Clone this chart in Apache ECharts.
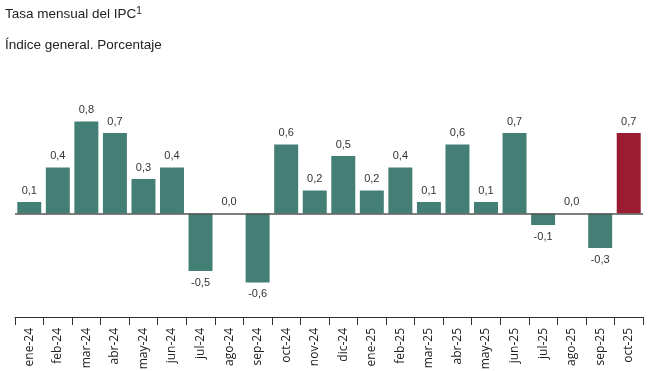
<!DOCTYPE html>
<html><head><meta charset="utf-8">
<script src="https://cdn.jsdelivr.net/npm/echarts@6/dist/echarts.min.js"></script>
<style>html,body{margin:0;padding:0;background:#fff}#c{width:659px;height:371px}</style>
</head><body><div id="c"></div>
<script>
const categories = ['ene-24','feb-24','mar-24','abr-24','may-24','jun-24','jul-24','ago-24','sep-24','oct-24','nov-24','dic-24','ene-25','feb-25','mar-25','abr-25','may-25','jun-25','jul-25','ago-25','sep-25','oct-25'];
const values = [0.1,0.4,0.8,0.7,0.3,0.4,-0.5,0.0,-0.6,0.6,0.2,0.5,0.2,0.4,0.1,0.6,0.1,0.7,-0.1,0.0,-0.3,0.7];
const highlightIndex = 21;

const chart = echarts.init(document.getElementById('c'));
const data = values.map((v,i)=>({
  value: v,
  itemStyle: {color: i===highlightIndex ? '#9b1b30' : '#447f76'},
  label: {position: v < 0 ? 'bottom' : 'top'}
}));
chart.setOption({
  animation:false,
  title:[
    {text:'{a|Tasa mensual del IPC}{s|1}', left:0, top:1,
     textStyle:{fontWeight:'normal',rich:{a:{fontFamily:'Liberation Sans',fontSize:13.5,fontWeight:'normal',color:'#222'},s:{fontFamily:'Liberation Sans',fontSize:10,fontWeight:'normal',color:'#222',verticalAlign:'top',padding:[0,0,7,0]}}}},
    {text:'Índice general. Porcentaje', left:0, top:33,
     textStyle:{fontFamily:'Liberation Sans',fontSize:13.5,fontWeight:'normal',color:'#222'}}
  ],
  grid:{left:15,right:16,top:110,height:207,containLabel:false,outerBoundsMode:'none'},
  xAxis:{type:'category',data:categories,
    axisLine:{show:true,onZero:false,lineStyle:{color:'#333',width:1}},
    axisTick:{show:true,inside:false,length:8,interval:0,lineStyle:{color:'#333',width:1}},
    axisLabel:{rotate:90,margin:11,fontFamily:'Open Sans',fontSize:12,color:'#222',interval:0}},
  yAxis:{type:'value',min:-0.9,max:0.9,show:false,splitLine:{show:false}},
  series:[{type:'bar',data:data,barCategoryGap:'16%',
    label:{show:true,fontFamily:'Liberation Sans',fontSize:11,color:'#333',distance:6,
      formatter:p=>p.value.toFixed(1).replace('.',',')},
    markLine:{silent:true,symbol:['none','none'],label:{show:false},
      lineStyle:{color:'#555',type:'solid',width:1.5},data:[{yAxis:0}]}
  }]
});
</script></body></html>
